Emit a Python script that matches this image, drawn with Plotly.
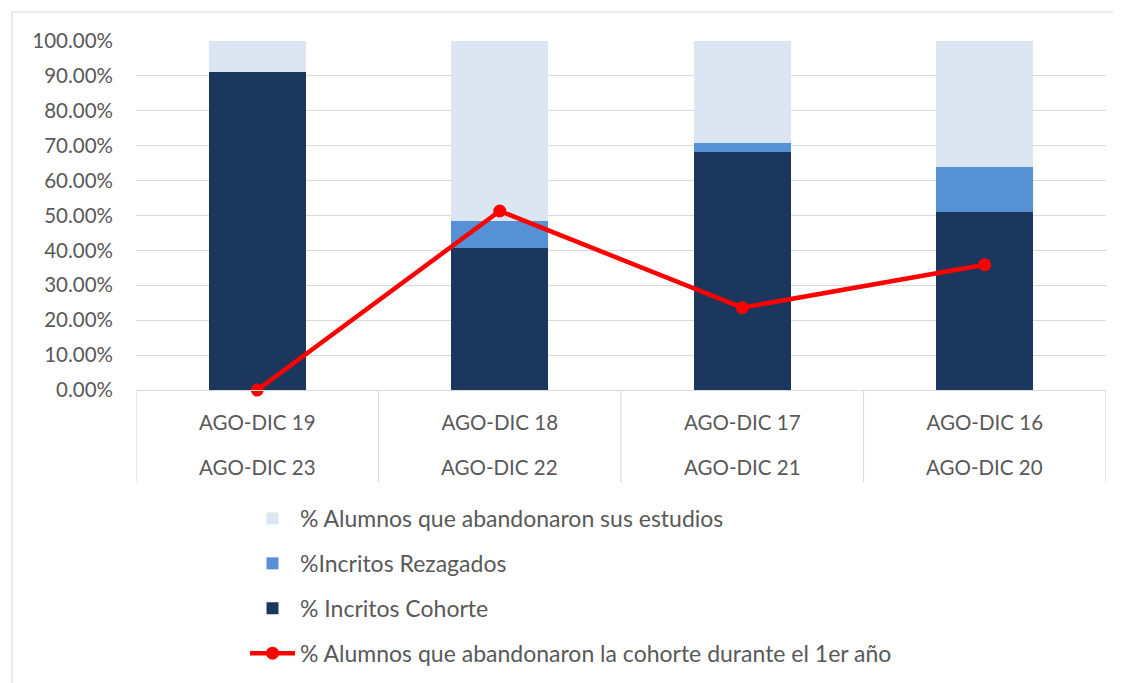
import plotly.graph_objects as go

periodo_ini = ["AGO-DIC 19", "AGO-DIC 18", "AGO-DIC 17", "AGO-DIC 16"]
periodo_fin = ["AGO-DIC 23", "AGO-DIC 22", "AGO-DIC 21", "AGO-DIC 20"]
cohorte = [0.910, 0.408, 0.683, 0.511]
rezagados = [0.000, 0.076, 0.025, 0.128]
abandono_estudios = [0.090, 0.516, 0.292, 0.361]
abandono_1er = [0.000, 0.513, 0.236, 0.359]

categorias = periodo_ini

font_family = "Lato, 'Open Sans', sans-serif"
gray_text = "#595959"
grid = "#D9D9D9"

fig = go.Figure()
fig.add_trace(go.Bar(x=categorias, y=cohorte, name="% Incritos Cohorte",
                     marker=dict(color="#1B375E", line=dict(width=0)),
                     legendrank=3, legendgroup="c", width=0.4))
fig.add_trace(go.Bar(x=categorias, y=rezagados, name="%Incritos Rezagados",
                     marker=dict(color="#5690D5", line=dict(width=0)),
                     legendrank=2, legendgroup="r", width=0.4))
fig.add_trace(go.Bar(x=categorias, y=abandono_estudios, name="% Alumnos que abandonaron sus estudios",
                     marker=dict(color="#DCE6F2", line=dict(width=0)),
                     legendrank=1, legendgroup="a", width=0.4))
fig.add_trace(go.Scatter(x=categorias, y=abandono_1er,
                         name="% Alumnos que abandonaron la cohorte durante el 1er año",
                         mode="lines+markers", line=dict(color="#FF0000", width=4.5),
                         marker=dict(color="#FF0000", size=13),
                         legendrank=4, legendgroup="l", cliponaxis=False))

# page offset (default body margin) compensation
OFF = 8
W, H = 1121 - OFF, 683 - OFF
L, T = 136 - OFF, 41 - OFF
RIGHT, BOTTOM = 1106 - OFF, 390 - OFF
R, B = W - RIGHT, H - BOTTOM
pw, ph = RIGHT - L, BOTTOM - T

def sx(px):
    return (px - OFF - L) / pw

def sy(py):
    return (BOTTOM - (py - OFF)) / ph

n = len(categorias)
shapes = [dict(type="rect", xref="paper", yref="paper",
               x0=sx(12), x1=sx(1160), y0=sy(720), y1=sy(12),
               line=dict(color=grid, width=1.2), layer="below")]
for i in range(n + 1):
    shapes.append(dict(type="line", xref="x", yref="paper",
                       x0=i - 0.5, x1=i - 0.5, y0=0, y1=sy(482),
                       line=dict(color=grid, width=1.2)))

annotations = [dict(x=c, xref="x", y=sy(467), yref="paper", text=f,
                    showarrow=False, xanchor="center", yanchor="middle",
                    font=dict(size=20.5, color=gray_text, family=font_family))
               for c, f in zip(categorias, periodo_fin)]

fig.update_layout(
    width=W, height=H,
    margin=dict(l=L, r=R, t=T, b=B, autoexpand=False),
    barmode="stack",
    plot_bgcolor="white", paper_bgcolor="white",
    font=dict(family=font_family, size=20, color=gray_text),
    showlegend=True,
    legend=dict(x=sx(245), xanchor="left", y=sy(497), yanchor="top",
                orientation="v", tracegroupgap=12, itemwidth=45,
                font=dict(size=23, color=gray_text), bgcolor="rgba(0,0,0,0)"),
    shapes=shapes,
    annotations=annotations,
)
fig.update_yaxes(range=[0, 1.0001], tickformat=".2%", dtick=0.1,
                 showgrid=True, gridcolor=grid, gridwidth=1.2,
                 zeroline=False, showline=False, ticklabelstandoff=22,
                 tickfont=dict(size=20.5, color=gray_text))
fig.update_xaxes(type="category", range=[-0.5, n - 0.5],
                 showline=True, linecolor=grid, linewidth=1.2, ticks="",
                 ticklabelstandoff=14,
                 tickfont=dict(size=20.5, color=gray_text))

fig.write_html("out.html")
